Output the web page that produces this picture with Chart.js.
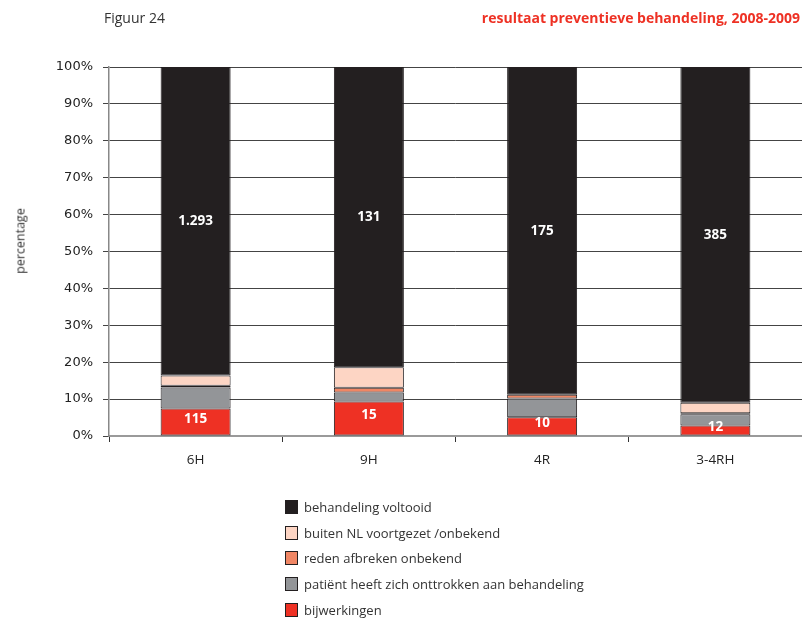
<!DOCTYPE html>
<html>
<head>
<meta charset="utf-8">
<script src="https://cdn.jsdelivr.net/npm/chart.js@4/dist/chart.umd.min.js"></script>
<style>
  html, body { margin: 0; padding: 0; background: #fff; }
  body { width: 802px; height: 618px; position: relative; overflow: hidden; font-family: "Open Sans", "Noto Sans", sans-serif; }
  #wrap { position: absolute; left: 0; top: 0; width: 802px; height: 618px; }
  .fig { position: absolute; left: 104px; top: 8px; font-size: 14px; color: #333; }
  .title { position: absolute; right: 2px; top: 8px; font-size: 14px; font-weight: bold; color: #ee3124; }
  .ytitle { position: absolute; left: 20px; top: 241px; font-size: 12.5px; color: #333; white-space: nowrap;
            transform: translate(-50%, -50%) rotate(-90deg); }
  #legend { position: absolute; left: 285px; top: 494px; font-size: 13px; color: #333; }
  #legend .item { height: 25.7px; display: flex; align-items: center; white-space: nowrap; }
  #legend .sw { width: 11px; height: 12px; border: 1px solid #231f20; margin-right: 6px; box-sizing: content-box; }
</style>
</head>
<body>
<div id="wrap"><canvas id="c" width="802" height="618"></canvas></div>
<div class="fig">Figuur 24</div>
<div class="title">resultaat preventieve behandeling, 2008-2009</div>
<div class="ytitle">percentage</div>
<div id="legend"></div>
<script>
// Regimens on the x axis
const categories = ['6H', '9H', '4R', '3-4RH'];

// Number of patients per outcome and regimen
const bijwerkingen = [115, 15, 10, 12];
const onttrokken   = [88, 4, 10, 13];
const redenOnbekend = [8, 2, 2, 1];
const buitenNL     = [42, 9, 0, 12];
const voltooid     = [1293, 131, 175, 385];

const yTicks = [0, 10, 20, 30, 40, 50, 60, 70, 80, 90, 100];

const seriesNames = [
  'bijwerkingen',
  'patiënt heeft zich onttrokken aan behandeling',
  'reden afbreken onbekend',
  'buiten NL voortgezet /onbekend',
  'behandeling voltooid'
];
const seriesColors = ['#ee3124', '#939598', '#f08664', '#fdd5c4', '#231f20'];
const seriesCounts = [bijwerkingen, onttrokken, redenOnbekend, buitenNL, voltooid];
const labelledSeries = [0, 4];

const totals = categories.map((_, i) => seriesCounts.reduce((s, arr) => s + arr[i], 0));
const toPct = arr => arr.map((v, i) => v / totals[i] * 100);

function fmtNL(n) {
  return String(n).replace(/\B(?=(\d{3})+(?!\d))/g, '.');
}

const datasets = seriesCounts.map((arr, k) => ({
  label: seriesNames[k],
  data: toPct(arr),
  counts: arr,
  backgroundColor: seriesColors[k],
  borderColor: '#231f20',
  borderWidth: 1,
  borderSkipped: false,
  categoryPercentage: 1,
  barPercentage: 0.404,
  showCount: labelledSeries.includes(k)
}));

// Count labels written inside the labelled segments
const countLabels = {
  id: 'countLabels',
  afterDatasetsDraw(chart) {
    const ctx = chart.ctx;
    ctx.save();
    ctx.font = 'bold 13.5px "Open Sans", sans-serif';
    ctx.fillStyle = '#ffffff';
    ctx.textAlign = 'center';
    ctx.textBaseline = 'middle';
    chart.data.datasets.forEach((ds, di) => {
      if (!ds.showCount) return;
      chart.getDatasetMeta(di).data.forEach((bar, i) => {
        const top = Math.min(bar.y, bar.base);
        const bottom = Math.max(bar.y, bar.base);
        let y = (top + bottom) / 2;
        if (di === 0) y = Math.min(y - 3, bottom - 8);
        ctx.fillText(fmtNL(ds.counts[i]), bar.x, y);
      });
    });
    ctx.restore();
  }
};

new Chart(document.getElementById('c'), {
  type: 'bar',
  data: { labels: categories, datasets },
  options: {
    responsive: false,
    animation: false,
    layout: { padding: { top: 67, right: 0, bottom: 142, left: 0 } },
    plugins: { legend: { display: false }, tooltip: { enabled: false } },
    scales: {
      x: {
        stacked: true,
        offset: true,
        afterFit(scale) { scale.height = 40; },
        grid: { drawOnChartArea: false, drawTicks: true, tickLength: 6, tickColor: '#333', offset: true },
        border: { color: '#9a9a9a', width: 2 },
        ticks: { color: '#222', font: { family: '"Open Sans", sans-serif', size: 13.5 }, padding: 10 }
      },
      y: {
        stacked: true,
        min: 0,
        max: 100,
        afterFit(scale) { scale.width = 109; },
        afterBuildTicks(scale) { scale.ticks = yTicks.map(v => ({ value: v })); },
        grid: {
          color: ctx => ctx.index === 0 ? 'rgba(0,0,0,0)' : '#444',
          lineWidth: 1,
          tickLength: 6,
          tickColor: '#444'
        },
        border: { color: '#888', width: 1.5 },
        ticks: {
          color: '#222',
          font: { family: '"DejaVu Sans", sans-serif', size: 13 },
          padding: 10,
          callback: v => v + '%'
        }
      }
    }
  },
  plugins: [countLabels]
});

// Legend, listed from the top segment down
const legend = document.getElementById('legend');
for (let k = seriesNames.length - 1; k >= 0; k--) {
  const item = document.createElement('div');
  item.className = 'item';
  const sw = document.createElement('span');
  sw.className = 'sw';
  sw.style.background = seriesColors[k];
  const tx = document.createElement('span');
  tx.textContent = seriesNames[k];
  item.appendChild(sw);
  item.appendChild(tx);
  legend.appendChild(item);
}
</script>
</body>
</html>
